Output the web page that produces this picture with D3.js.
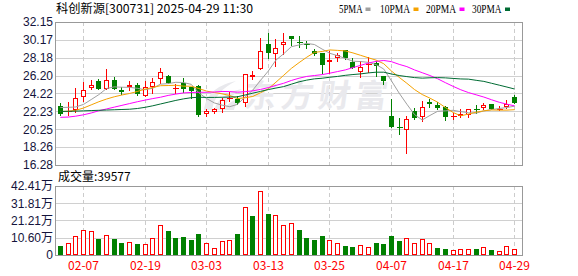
<!DOCTYPE html>
<html>
<head>
<meta charset="utf-8">
<title>科创新源 K线</title>
<script src="https://cdnjs.cloudflare.com/ajax/libs/d3/7.8.5/d3.min.js"></script>
<style>
    body { margin: 0; background: #fff; }
    svg { display: block; }
    .ylab { font-family: "Liberation Sans", Arial, sans-serif; font-size: 12px; fill: #14143c; }
    .cjk { font-family: "Noto Sans CJK SC", sans-serif; }
    .xlab { font-family: "Noto Sans CJK SC", sans-serif; font-size: 12px; fill: #ff0000; }
</style>
</head>
<body>
<svg id="chart" width="578" height="276"></svg>
<script>
    // trading days shown (MM-DD)
    const dates = ["01-27","02-05","02-06","02-07","02-10","02-11","02-12","02-13","02-14","02-17",
        "02-18","02-19","02-20","02-21","02-24","02-25","02-26","02-27","02-28","03-03",
        "03-04","03-05","03-06","03-07","03-10","03-11","03-12","03-13","03-14","03-17",
        "03-18","03-19","03-20","03-21","03-24","03-25","03-26","03-27","03-28","03-31",
        "04-01","04-02","04-03","04-07","04-08","04-09","04-10","04-11","04-14","04-15",
        "04-16","04-17","04-18","04-21","04-22","04-23","04-24","04-25","04-28","04-29"];

    const opens = [22.86,22.22,22.38,23.86,24.86,25.64,24.75,25.71,24.60,24.90,
        25.12,23.94,24.90,25.86,26.19,24.82,25.34,24.90,25.05,21.90,
        22.20,22.46,23.62,23.64,23.13,26.08,26.93,29.71,28.56,29.56,
        30.60,29.93,29.71,28.93,28.75,27.67,28.12,29.04,27.67,26.64,
        27.41,27.56,26.19,21.72,20.45,20.16,22.27,21.57,23.27,22.94,
        22.68,21.68,21.72,21.83,22.46,22.64,23.01,22.38,22.75,23.86];
    const highs = [23.12,23.31,24.79,25.53,25.71,25.82,26.93,26.05,24.90,25.56,
        25.42,25.60,25.90,27.08,26.27,25.23,25.90,24.97,25.16,22.53,
        22.60,23.68,24.34,23.94,26.42,26.67,30.34,30.89,30.26,30.97,
        30.60,30.63,30.04,29.19,28.75,28.93,28.75,29.04,28.12,27.86,
        28.23,27.86,26.19,23.60,21.46,21.72,22.57,23.38,23.56,23.31,
        22.83,22.01,22.46,22.46,22.94,23.20,23.01,22.83,23.49,24.05];
    const lows = [21.83,21.83,22.20,23.38,24.67,24.67,24.67,24.67,24.12,24.60,
        24.05,23.94,24.23,25.34,25.34,24.31,24.38,23.75,21.72,21.72,
        22.09,22.20,23.42,23.05,22.83,25.79,26.93,28.12,27.30,28.60,
        29.60,29.34,29.30,28.49,26.45,26.45,27.86,28.00,27.00,26.01,
        26.64,26.16,25.27,20.53,19.68,17.65,21.35,21.20,22.75,22.46,
        21.27,21.35,21.57,21.57,22.01,22.46,22.46,22.38,22.64,23.12];
    const closes = [21.94,22.30,23.75,24.56,25.16,24.67,25.71,24.67,24.34,25.12,
        24.12,24.90,25.53,26.56,25.42,24.88,24.75,24.53,21.83,22.27,
        22.49,23.49,23.68,23.13,26.38,26.30,28.93,28.75,29.23,29.89,
        30.26,29.85,29.63,28.60,27.38,27.93,28.49,28.12,27.08,27.19,
        27.48,27.26,25.64,20.53,20.38,21.35,21.46,22.68,23.05,22.64,
        21.64,21.75,21.90,22.46,22.42,22.90,22.46,22.49,23.01,23.20];

    // volume in 万 (10k shares)
    const volumes = [5.5,7.4,11.5,15.2,14.6,9.8,12.1,9.8,7.4,7.8,
        6.8,6.8,10.3,18.2,14.8,10.4,11.1,9.2,12.9,7.2,
        4.3,8.6,9.2,12.9,29.3,24.0,39.2,25.2,24.4,18.2,
        19.5,15.4,10.4,9.2,11.7,9.2,7.2,5.5,4.9,6.0,
        4.7,7.4,6.8,11.7,8.6,10.3,7.4,9.6,7.4,4.3,
        3.7,2.9,3.5,3.5,3.7,4.7,3.1,2.3,5.3,3.96];

    const ma5 = [22.66,22.68,22.72,23.00,23.54,24.09,24.77,24.95,24.91,24.90,
        24.79,24.63,24.80,25.25,25.31,25.46,25.43,25.23,24.28,23.65,
        23.17,22.92,22.75,23.01,23.83,24.60,25.68,26.70,27.92,28.62,
        29.41,29.60,29.77,29.65,29.14,28.68,28.41,28.10,27.80,27.76,
        27.67,27.43,26.93,25.62,24.26,23.03,21.87,21.28,21.78,22.24,
        22.29,22.35,22.20,22.08,22.03,22.29,22.43,22.55,22.66,22.81];
    const ma10 = [22.22,22.24,22.35,22.60,22.95,23.30,23.60,23.85,24.05,24.22,
        24.44,24.70,24.88,25.08,25.10,25.13,25.03,25.02,24.76,24.48,
        24.32,24.18,23.99,23.65,23.74,23.89,24.30,24.73,25.47,26.23,
        27.00,27.64,28.24,28.78,28.88,29.05,29.00,28.94,28.72,28.45,
        28.18,27.92,27.52,26.71,26.01,25.35,24.65,24.10,23.70,23.25,
        22.66,22.11,21.74,21.93,22.14,22.29,22.39,22.37,22.37,22.42];
    const ma20 = [21.57,21.60,21.70,21.85,22.05,22.30,22.50,22.70,22.90,23.10,
        23.30,23.48,23.65,23.80,24.00,24.15,24.28,24.33,24.35,24.35,
        24.38,24.44,24.43,24.36,24.42,24.51,24.67,24.87,25.11,25.35,
        25.66,25.91,26.11,26.21,26.31,26.47,26.65,26.83,27.09,27.34,
        27.59,27.78,27.88,27.75,27.45,27.20,26.83,26.52,26.21,25.85,
        25.42,25.01,24.63,24.32,24.07,23.82,23.52,23.24,23.03,22.84];
    const ma30 = [22.22,22.24,22.26,22.29,22.32,22.35,22.38,22.41,22.44,22.47,
        22.55,22.68,22.85,23.05,23.25,23.45,23.62,23.75,23.80,23.78,
        23.78,23.80,23.82,23.85,24.05,24.25,24.45,24.65,24.82,24.98,
        25.25,25.51,25.70,25.84,25.91,26.02,26.11,26.23,26.32,26.39,
        26.50,26.58,26.58,26.38,26.21,26.09,25.98,25.92,25.96,25.98,
        25.95,25.89,25.83,25.81,25.68,25.56,25.35,25.14,24.93,24.71];

    const priceTicks = [32.15,30.17,28.18,26.20,24.22,22.23,20.25,18.26,16.28];
    const volTicks = [42.41,31.81,21.21,10.60,0];
    const volTickLabels = ["42.41","31.81","21.21","10.60","0"];
    const xTicks = ["02-07","02-19","03-03","03-13","03-25","04-07","04-17","04-29"];

    const maSeries = [
        {name: "5PMA", values: ma5, color: "#a0a0a0"},
        {name: "10PMA", values: ma10, color: "#f5a200"},
        {name: "20PMA", values: ma20, color: "#ff00ff"},
        {name: "30PMA", values: ma30, color: "#006b33"}
    ];

    const left = 55, right = 522;
    const pTop = 22, pBot = 165, vTop = 186, vBot = 255;
    const red = "#ff0000", green = "#008000";

    const svg = d3.select('#chart');

    const x = d3.scaleBand().domain(dates).range([56.5, 518.5]).padding(0);
    const cx = d => Math.floor(x(d) + x.bandwidth() / 2) + 0.5;
    const y = d3.scaleLinear().domain([16.28, 32.15]).range([pBot, pTop]);
    const yv = d3.scaleLinear().domain([0, 42.41]).range([vBot, vTop]);
    const snap = v => Math.round(v) + 0.5;

    // title + legend
    svg.append('text').attr('class', 'cjk')
        .attr('x', 56).attr('y', 13).attr('font-size', 12).attr('fill', '#000')
        .attr('textLength', 197).attr('lengthAdjust', 'spacingAndGlyphs')
        .text('科创新源[300731] 2025-04-29 11:30');

    const legendPos = [[339, 23.5, 365.5], [380, 30, 413.5], [426, 30, 459.5], [472, 29.5, 505]];
    maSeries.forEach((s, i) => {
        const p = legendPos[i];
        svg.append('text')
            .attr('x', p[0]).attr('y', 12.5)
            .attr('font-family', '"Liberation Serif", serif').attr('font-size', 11.5)
            .attr('fill', '#000')
            .attr('textLength', p[1]).attr('lengthAdjust', 'spacingAndGlyphs')
            .text(s.name);
        svg.append('rect').attr('x', p[2]).attr('y', 7.5).attr('width', 5).attr('height', 3.5)
            .attr('fill', s.color);
    });

    // ---- price panel grid ----
    const grid = svg.append('g').attr('shape-rendering', 'crispEdges');
    grid.selectAll('line.h').data(priceTicks.slice(1, -1)).join('line')
        .attr('x1', left).attr('x2', right)
        .attr('y1', d => snap(y(d))).attr('y2', d => snap(y(d)))
        .attr('stroke', '#d0d0d0');
    grid.selectAll('line.hv').data(volTicks.slice(1, -1)).join(enter => enter.append('line'))
        .attr('x1', left).attr('x2', right)
        .attr('y1', d => snap(yv(d))).attr('y2', d => snap(yv(d)))
        .attr('stroke', '#d0d0d0');
    xTicks.forEach(t => {
        [[pTop, pBot], [vTop, vBot]].forEach(r => {
            grid.append('line')
                .attr('x1', cx(t)).attr('x2', cx(t))
                .attr('y1', r[0]).attr('y2', r[1])
                .attr('stroke', '#cccccc').attr('stroke-dasharray', '4,3');
        });
    });

    // watermark
    const wm = svg.append('g').attr('fill', '#e9e9ed').attr('stroke', 'none');
    wm.append('path').attr('d', 'M204,110 C206,96 214,86 236,81 C222,88 214,97 212,110 Z');
    wm.append('path').attr('d', 'M214,110 C218,99 226,92 242,89 C232,95 226,101 224,110 Z');
    wm.append('path').attr('d', 'M224,110 C228,103 234,99 244,97 C238,101 235,105 234,110 Z');
    wm.append('text').attr('class', 'cjk')
        .attr('x', 244).attr('y', 107)
        .attr('font-size', 32).attr('font-weight', 'bold')
        .attr('textLength', 143).attr('lengthAdjust', 'spacing')
        .attr('transform', 'skewX(-8) translate(14,0)')
        .text('东方财富');

    // ---- candles ----
    const candles = svg.append('g').attr('shape-rendering', 'crispEdges');
    d3.range(dates.length).forEach(i => {
        const c = cx(dates[i]);
        const o = opens[i], cl = closes[i];
        const up = cl >= o;
        const col = up ? red : green;
        const yTop = Math.round(y(Math.max(o, cl)));
        const yBot = Math.round(y(Math.min(o, cl)));
        candles.append('line')
            .attr('x1', c).attr('x2', c)
            .attr('y1', Math.round(y(highs[i]))).attr('y2', Math.round(y(lows[i])) + 1)
            .attr('stroke', col);
        if (yBot - yTop < 2) {
            candles.append('line')
                .attr('x1', c - 3).attr('x2', c + 3)
                .attr('y1', yTop + 0.5).attr('y2', yTop + 0.5)
                .attr('stroke', col);
        } else if (up) {
            candles.append('rect')
                .attr('x', c - 2).attr('y', yTop + 0.5)
                .attr('width', 4).attr('height', yBot - yTop - 1)
                .attr('fill', '#fff').attr('stroke', col);
        } else {
            candles.append('rect')
                .attr('x', c - 2.5).attr('y', yTop)
                .attr('width', 5).attr('height', yBot - yTop)
                .attr('fill', col);
        }
    });

    // ---- moving averages ----
    const line = d3.line()
        .x((d, i) => x(dates[i]) + x.bandwidth() / 2)
        .y(d => y(d));
    svg.append('g').selectAll('path').data(maSeries).join('path')
        .attr('d', d => line(d.values))
        .attr('fill', 'none')
        .attr('stroke', d => d.color)
        .attr('stroke-width', 1);

    // ---- volume bars (colour by close vs previous close) ----
    const vol = svg.append('g').attr('shape-rendering', 'crispEdges');
    volumes.forEach((v, i) => {
        const c = cx(dates[i]);
        const up = i === 0 ? closes[0] >= opens[0] : closes[i] >= closes[i - 1];
        const top = Math.round(yv(v));
        if (up) {
            vol.append('rect')
                .attr('x', c - 2).attr('y', top + 0.5)
                .attr('width', 4).attr('height', vBot - top - 1)
                .attr('fill', '#fff').attr('stroke', red);
        } else {
            vol.append('rect')
                .attr('x', c - 2.5).attr('y', top)
                .attr('width', 5).attr('height', vBot - top)
                .attr('fill', green);
        }
    });

    // panel borders
    [[pTop, pBot], [vTop, vBot]].forEach(r => {
        svg.append('rect')
            .attr('x', left + 0.5).attr('y', r[0] + 0.5)
            .attr('width', right - left).attr('height', r[1] - r[0])
            .attr('fill', 'none').attr('stroke', '#999')
            .attr('shape-rendering', 'crispEdges');
    });

    // ---- axis labels ----
    svg.append('g').selectAll('text').data(priceTicks).join('text')
        .attr('class', 'ylab')
        .attr('x', 53).attr('y', d => y(d)).attr('dy', '0.36em')
        .attr('text-anchor', 'end')
        .text(d => d.toFixed(2));

    const vl = svg.append('g').selectAll('text').data(volTicks).join('text')
        .attr('class', 'ylab')
        .attr('x', 53).attr('y', d => yv(d)).attr('dy', '0.36em')
        .attr('text-anchor', 'end');
    vl.append('tspan').text((d, i) => volTickLabels[i]);
    vl.filter(d => d > 0).append('tspan').attr('class', 'cjk').attr('font-size', 12).text('万');

    svg.append('text').attr('class', 'cjk')
        .attr('x', 58).attr('y', 181).attr('font-size', 12).attr('fill', '#000')
        .text('成交量:39577');

    svg.append('g').selectAll('text').data(xTicks).join('text')
        .attr('class', 'xlab')
        .attr('x', d => cx(d)).attr('y', 270)
        .attr('text-anchor', 'middle')
        .text(d => d);
</script>
</body>
</html>
